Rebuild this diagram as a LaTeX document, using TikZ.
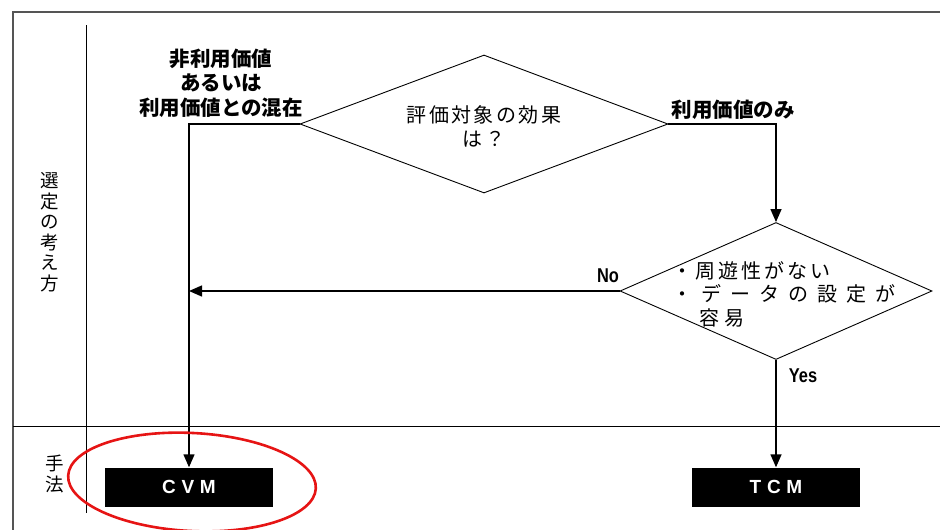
\documentclass[tikz,border=0pt]{standalone}
\usepackage{fontspec}
\setmainfont{Liberation Sans}
\newfontfamily\jp{Noto Sans CJK JP}
\usetikzlibrary{arrows.meta,shapes.geometric}
\definecolor{framegray}{RGB}{85,85,85}
\definecolor{circred}{RGB}{230,20,20}
\tikzset{
  decision/.style={diamond, draw, line width=0.9pt, inner sep=0pt},
  method/.style={fill=black, text=white, minimum width=168, minimum height=39, inner sep=0pt,
    font=\fontsize{19}{20}\selectfont\bfseries\addfontfeatures{LetterSpace=30}},
  arr/.style={line width=1.4pt, -{Triangle[length=13pt,width=11pt]}},
  jlabel/.style={font=\jp\fontsize{20.5}{24.5}\selectfont\bfseries, align=center, inner sep=0pt},
  jtext/.style={font=\jp\fontsize{20}{24}\selectfont\addfontfeatures{LetterSpace=12}, align=center, inner sep=0pt},
  elabel/.style={font=\fontsize{20}{22}\selectfont\bfseries, inner sep=0pt, xscale=0.82},
  sidelab/.style={font=\jp\fontsize{18.5}{20.5}\selectfont, align=center, inner sep=0pt},
}
\begin{document}
\begin{tikzpicture}[x=1pt,y=-1pt]
\useasboundingbox (0,0) rectangle (940,530);
% frame and grid
\draw[framegray, line width=1.6pt] (13,530) -- (13,12) -- (940,12);
\draw[line width=0.7pt] (86,25) -- (86,513);
\draw[line width=0.8pt] (13,426) -- (940,426);
% side labels
\node[sidelab] (sel) at (50,232) {選\\定\\の\\考\\え\\方};
\node[sidelab] (meth) at (55,474) {手\\法};
% decisions
\node[decision, minimum width=368, minimum height=138] (d1) at (484,124) {};
\node[jtext] (d1t) at (484,126) {評価対象の効果\\は？};
\node[decision, minimum width=312, minimum height=137] (d2) at (776,291) {};
\node[font=\jp\fontsize{20}{23.5}\selectfont, anchor=north west, inner sep=0pt, align=left] (d2t) at (672,261)
 {{\addfontfeatures{LetterSpace=15}・周遊性がない}\\{\addfontfeatures{LetterSpace=45}・データの設定が}\\{\hspace*{27pt}\addfontfeatures{LetterSpace=25}容易}};
% methods
\node[method] (cvm) at (189,487) {CVM};
\node[method] (tcm) at (776,487) {TCM};
% connectors
\draw[arr] (d1.west) -| (cvm.north);
\draw[arr] (d1.east) -| (d2.north);
\coordinate (nojoin) at (cvm.north |- d2.west);
\draw[arr] (d2.west) -- (nojoin);
\draw[arr] (d2.south) -- (tcm.north);
% labels
\node[jlabel] (l1) at (221,83) {非利用価値\\あるいは\\利用価値との混在};
\node[jlabel] (l2) at (733,110) {利用価値のみ};
\node[elabel] (no) at (608,276) {No};
\node[elabel] (yes) at (803,376) {Yes};
% highlight
\draw[circred, line width=2.6pt, rotate around={-3:(192,482)}] (192,482) ellipse [x radius=124, y radius=49];
\end{tikzpicture}
\end{document}
